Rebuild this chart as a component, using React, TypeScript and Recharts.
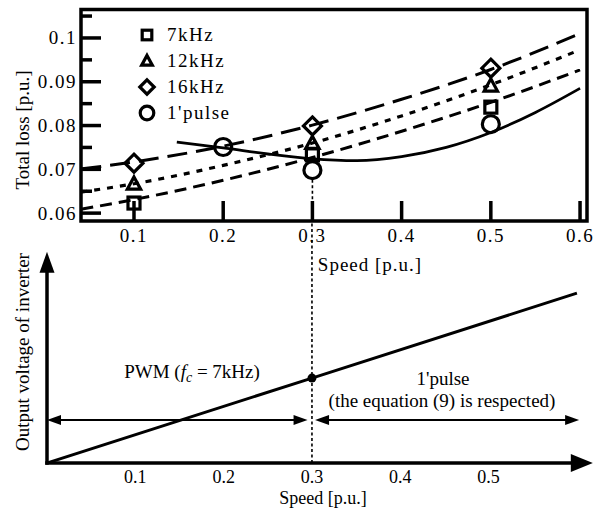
import {
  ComposedChart, Line, Scatter, XAxis, YAxis, ReferenceLine, ReferenceArea, ReferenceDot, Legend,
} from 'recharts';

const SERIF = 'Liberation Serif, Times New Roman, serif';

// ---- upper chart: total loss vs speed ----
const markerSpeed = [0.1, 0.3, 0.5];
const loss7k = [0.0623, 0.0733, 0.0842];
const loss12k = [0.0669, 0.0762, 0.0893];
const loss16k = [0.0714, 0.0799, 0.0931];
const pulseSpeed = [0.2, 0.3, 0.5];
const lossPulse = [0.0751, 0.0698, 0.0803];

// fitted curves
const fitSpeed = [0.041, 0.1, 0.2, 0.3, 0.4, 0.5, 0.6];
const fit7k = [0.0609, 0.0631, 0.0675, 0.0727, 0.0787, 0.0853, 0.0927];
const fit12k = [0.0648, 0.0667, 0.0709, 0.076, 0.0822, 0.0893, 0.0973];
const fit16k = [0.0701, 0.0717, 0.0753, 0.0801, 0.086, 0.0928, 0.101];
const fitPulseSpeed = [0.148, 0.2, 0.25, 0.3, 0.35, 0.4, 0.45, 0.5, 0.55, 0.6];
const fitPulse = [0.0762, 0.0749, 0.0735, 0.0724, 0.072, 0.0729, 0.075, 0.0784, 0.083, 0.0885];

const lossXTicks = [0.1, 0.2, 0.3, 0.4, 0.5, 0.6];
const lossYTicks = [0.06, 0.065, 0.07, 0.075, 0.08, 0.085, 0.09, 0.095, 0.1, 0.105];
const lossYLabels = [0.06, 0.07, 0.08, 0.09, 0.1];
const lossXDomain = [0.0406, 0.6078];
const lossYDomain = [0.0582, 0.1065];
const legendNames = ['7kHz', '12kHz', '16kHz', "1'pulse"];

// ---- lower chart: inverter output voltage vs speed ----
const voltSpeed = [0, 0.3, 0.6];
const voltOut = [0, 0.3, 0.6];
const voltXTicks = [0.1, 0.2, 0.3, 0.4, 0.5];
const switchSpeed = 0.3;
const voltXDomain = [0, 0.625];
const voltYDomain = [0, 0.855];

const rows = (xs: number[], ys: number[]) => xs.map((x, i) => ({ x, y: ys[i] }));

const txt = { fontFamily: SERIF, fill: '#000' };

type Kind = 'square' | 'triangle' | 'diamond' | 'circle';

function Marker({ kind, cx, cy, s = 1 }: { kind: Kind; cx: number; cy: number; s?: number }) {
  const common = { fill: 'none', stroke: '#000', strokeWidth: 3.2 };
  if (kind === 'square') {
    const h = 6 * s;
    return <rect x={cx - h} y={cy - h} width={2 * h} height={2 * h} {...common} />;
  }
  if (kind === 'triangle') {
    const h = 7 * s;
    return (
      <polygon
        points={`${cx},${cy - h} ${cx + h * 0.95},${cy + h * 0.75} ${cx - h * 0.95},${cy + h * 0.75}`}
        strokeLinejoin="miter"
        {...common}
      />
    );
  }
  if (kind === 'diamond') {
    const h = 9 * s;
    return <polygon points={`${cx},${cy - h} ${cx + h},${cy} ${cx},${cy + h} ${cx - h},${cy}`} {...common} />;
  }
  return <circle cx={cx} cy={cy} r={8.5 * s} {...common} />;
}

const kindOf: Record<string, Kind> = {
  '7kHz': 'square', '12kHz': 'triangle', '16kHz': 'diamond', "1'pulse": 'circle',
};

function LossLegend({ payload }: any) {
  const items = (payload ?? [])
    .filter((p: any) => legendNames.includes(p.value))
    .sort((a: any, b: any) => legendNames.indexOf(a.value) - legendNames.indexOf(b.value));
  return (
    <div style={{ fontFamily: SERIF, fontSize: 19, color: '#000' }}>
      {items.map((it: any) => (
        <div key={it.value} style={{ display: 'flex', alignItems: 'center', height: 26 }}>
          <svg width={22} height={22}>
            <Marker kind={kindOf[it.value]} cx={11} cy={11} s={0.8} />
          </svg>
          <span style={{ marginLeft: 9, letterSpacing: 1.5, fontFamily: SERIF }}>{it.value}</span>
        </div>
      ))}
    </div>
  );
}

function LeftTick({ x, y, payload }: any) {
  const major = lossYLabels.includes(payload.value);
  return (
    <g>
      <line x1={x + 4} x2={x + 4 + (major ? 20 : 11)} y1={y} y2={y} stroke="#000" strokeWidth={3.5} />
      {major && (
        <text x={x} y={y} dy={6.5} textAnchor="end" fontSize={19} letterSpacing={1.5} {...txt}>
          {payload.value}
        </text>
      )}
    </g>
  );
}

function RightTick({ x, y, payload }: any) {
  const major = lossYLabels.includes(payload.value);
  return <line x1={x} x2={x - (major ? 20 : 11)} y1={y} y2={y} stroke="#000" strokeWidth={3.5} />;
}

function BottomTick({ x, y, payload }: any) {
  return (
    <g>
      <line x1={x} x2={x} y1={y} y2={y - 20} stroke="#000" strokeWidth={3.5} />
      <text x={x} y={y + 21} textAnchor="middle" fontSize={19} letterSpacing={1.5} {...txt}>
        {payload.value}
      </text>
    </g>
  );
}

function TopTick({ x, y }: any) {
  return <line x1={x} x2={x} y1={y} y2={y + 20} stroke="#000" strokeWidth={3.5} />;
}

function VoltTick({ x, y, payload }: any) {
  return (
    <text x={x} y={y + 12} textAnchor="middle" fontSize={18} {...txt}>
      {payload.value}
    </text>
  );
}

// line with arrow heads, drawn from the reference line end points
function Arrow({ x1, y1, x2, y2, both = false, head = 13, wide = 9, width = 2 }: any) {
  const dx = x2 - x1;
  const dy = y2 - y1;
  const len = Math.hypot(dx, dy) || 1;
  const ux = dx / len;
  const uy = dy / len;
  const px = -uy;
  const py = ux;
  const tri = (tx: number, ty: number, dirx: number, diry: number) => {
    const bx = tx - dirx * head;
    const by = ty - diry * head;
    return `${tx},${ty} ${bx + px * wide / 2},${by + py * wide / 2} ${bx - px * wide / 2},${by - py * wide / 2}`;
  };
  const sx = both ? x1 + ux * head * 0.8 : x1;
  const sy = both ? y1 + uy * head * 0.8 : y1;
  return (
    <g>
      <line x1={sx} y1={sy} x2={x2 - ux * head * 0.8} y2={y2 - uy * head * 0.8} stroke="#000" strokeWidth={width} strokeLinecap="square" />
      <polygon points={tri(x2, y2, ux, uy)} fill="#000" />
      {both && <polygon points={tri(x1, y1, -ux, -uy)} fill="#000" />}
    </g>
  );
}

function LossChart() {
  return (
    <ComposedChart width={602} height={290} margin={{ top: 9.5, right: 15, bottom: 39, left: 31 }}>
      <XAxis
        dataKey="x" type="number" domain={lossXDomain} ticks={lossXTicks} allowDataOverflow
        height={30} interval={0} axisLine={false} tickLine={false} tickSize={0} tickMargin={0}
        tick={(p: any) => <BottomTick {...p} />}
      />
      <XAxis
        xAxisId="t" orientation="top" type="number" domain={lossXDomain} ticks={lossXTicks} allowDataOverflow
        height={0} interval={0} axisLine={false} tickLine={false} tickSize={0} tickMargin={0}
        tick={(p: any) => <TopTick {...p} />}
      />
      <YAxis
        dataKey="y" type="number" domain={lossYDomain} ticks={lossYTicks} allowDataOverflow
        width={50} interval={0} axisLine={false} tickLine={false} tickSize={0} tickMargin={4}
        tick={(p: any) => <LeftTick {...p} />}
      />
      <YAxis
        yAxisId="r" orientation="right" type="number" domain={lossYDomain} ticks={lossYTicks} allowDataOverflow
        width={0} interval={0} axisLine={false} tickLine={false} tickSize={0} tickMargin={0}
        tick={(p: any) => <RightTick {...p} />}
      />
      <ReferenceArea
        x1={lossXDomain[0]} x2={lossXDomain[1]} y1={lossYDomain[0]} y2={lossYDomain[1]}
        fill="none" fillOpacity={0} stroke="#000" strokeWidth={3.5} ifOverflow="visible"
      />
      <ReferenceLine
        segment={[{ x: switchSpeed, y: 0.0676 }, { x: switchSpeed, y: lossYDomain[0] }]}
        stroke="#000" strokeWidth={1.6} strokeDasharray="3 2.5" ifOverflow="visible"
      />
      <Line data={rows(fitSpeed, fit16k)} dataKey="y" type="monotone" stroke="#000" strokeWidth={3}
        strokeDasharray="20 9" dot={false} activeDot={false} legendType="none" isAnimationActive={false} />
      <Line data={rows(fitSpeed, fit12k)} dataKey="y" type="monotone" stroke="#000" strokeWidth={3.2}
        strokeDasharray="6 7" dot={false} activeDot={false} legendType="none" isAnimationActive={false} />
      <Line data={rows(fitSpeed, fit7k)} dataKey="y" type="monotone" stroke="#000" strokeWidth={3}
        strokeDasharray="12 7" dot={false} activeDot={false} legendType="none" isAnimationActive={false} />
      <Line data={rows(fitPulseSpeed, fitPulse)} dataKey="y" type="monotone" stroke="#000" strokeWidth={2.8}
        dot={false} activeDot={false} legendType="none" isAnimationActive={false} />
      <Scatter name="7kHz" data={rows(markerSpeed, loss7k)} dataKey="y" isAnimationActive={false}
        shape={(p: any) => <Marker kind="square" cx={p.cx} cy={p.cy} />} />
      <Scatter name="12kHz" data={rows(markerSpeed, loss12k)} dataKey="y" isAnimationActive={false}
        shape={(p: any) => <Marker kind="triangle" cx={p.cx} cy={p.cy + 1} />} />
      <Scatter name="16kHz" data={rows(markerSpeed, loss16k)} dataKey="y" isAnimationActive={false}
        shape={(p: any) => <Marker kind="diamond" cx={p.cx} cy={p.cy} />} />
      <Scatter name="1'pulse" data={rows(pulseSpeed, lossPulse)} dataKey="y" isAnimationActive={false}
        shape={(p: any) => <Marker kind="circle" cx={p.cx} cy={p.cy} />} />
      <Legend
        layout="vertical" align="center" verticalAlign="middle"
        content={(p: any) => <LossLegend {...p} />}
        wrapperStyle={{ position: 'absolute', left: 136, top: 22, width: 'auto', height: 'auto' }}
      />
      <text x={370} y={271} textAnchor="middle" fontSize={19} letterSpacing={1} {...txt}>
        Speed [p.u.]
      </text>
      <text transform="translate(29,130) rotate(-90)" textAnchor="middle" fontSize={19} {...txt}>
        Total loss [p.u.]
      </text>
    </ComposedChart>
  );
}

function VoltageChart() {
  return (
    <ComposedChart width={602} height={288} margin={{ top: 0, right: 3, bottom: 16, left: 47 }}>
      <XAxis
        dataKey="x" type="number" domain={voltXDomain} ticks={voltXTicks} allowDataOverflow
        height={30} interval={0} axisLine={false} tickLine={false} tickSize={0} tickMargin={8}
        tick={(p: any) => <VoltTick {...p} />}
      />
      <YAxis dataKey="y" type="number" domain={voltYDomain} allowDataOverflow hide />
      <ReferenceLine
        segment={[{ x: switchSpeed, y: 0 }, { x: switchSpeed, y: voltYDomain[1] }]}
        stroke="#000" strokeWidth={1.6} strokeDasharray="3 2.5" ifOverflow="visible"
      />
      <ReferenceLine
        segment={[{ x: 0, y: 0 }, { x: 0.618, y: 0 }]} ifOverflow="visible"
        shape={(p: any) => <Arrow {...p} head={22} wide={18} width={3.5} />}
      />
      <ReferenceLine
        segment={[{ x: 0, y: 0 }, { x: 0, y: 0.746 }]} ifOverflow="visible"
        shape={(p: any) => <Arrow {...p} head={21} wide={15} width={3.5} />}
      />
      <ReferenceLine
        segment={[{ x: 0, y: 0.152 }, { x: 0.295, y: 0.152 }]} ifOverflow="visible"
        shape={(p: any) => <Arrow {...p} both head={14} wide={10} width={2} />}
      />
      <ReferenceLine
        segment={[{ x: 0.3035, y: 0.152 }, { x: 0.6025, y: 0.152 }]} ifOverflow="visible"
        shape={(p: any) => <Arrow {...p} both head={14} wide={10} width={2} />}
      />
      <Line data={rows(voltSpeed, voltOut)} dataKey="y" type="linear" stroke="#000" strokeWidth={3}
        dot={false} activeDot={false} legendType="none" isAnimationActive={false} />
      <ReferenceDot x={switchSpeed} y={0.3} r={4.5} fill="#000" stroke="none" ifOverflow="visible" />
      <text transform="translate(29,131) rotate(-90)" textAnchor="middle" fontSize={19} {...txt}>
        Output voltage of inverter
      </text>
      <text x={192} y={157} textAnchor="middle" fontSize={19} {...txt}>
        PWM (<tspan fontStyle="italic">f</tspan>
        <tspan fontStyle="italic" fontSize={14} dy={4}>c</tspan>
        <tspan dy={-4}> = 7kHz)</tspan>
      </text>
      <text x={443} y={164} textAnchor="middle" fontSize={19} {...txt}>1'pulse</text>
      <text x={442} y={186} textAnchor="middle" fontSize={19} {...txt}>
        (the equation (9) is respected)
      </text>
      <text x={323} y={283} textAnchor="middle" fontSize={18} {...txt}>Speed [p.u.]</text>
    </ComposedChart>
  );
}

export default function App() {
  return (
    <div style={{ position: 'absolute', left: 0, top: 0, width: 602, height: 509, background: '#fff', fontFamily: SERIF }}>
      <div style={{ position: 'absolute', left: 0, top: 0 }}>
        <LossChart />
      </div>
      <div style={{ position: 'absolute', left: 0, top: 221 }}>
        <VoltageChart />
      </div>
    </div>
  );
}
